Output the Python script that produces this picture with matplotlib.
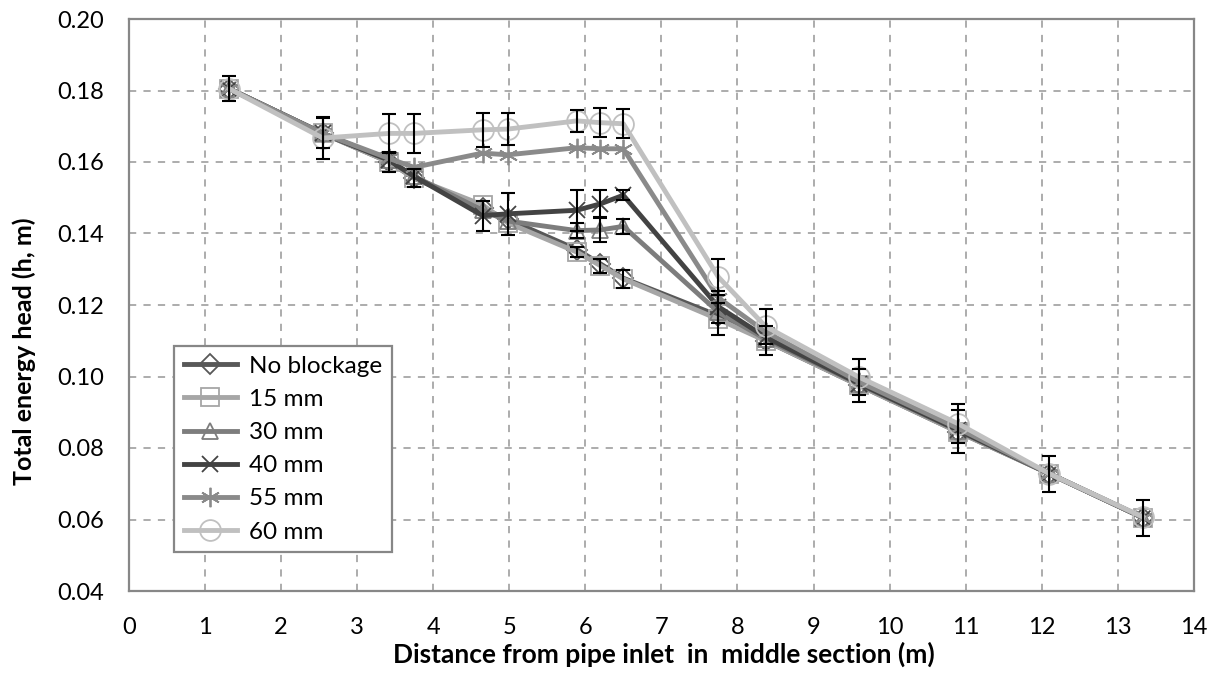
import matplotlib
matplotlib.use("Agg")
import matplotlib.pyplot as plt
from matplotlib.ticker import FormatStrFormatter

plt.rcParams['font.family'] = ['Lato', 'DejaVu Sans']

nan = float('nan')

# ---- data ----
distance = [1.32, 2.55, 3.42, 3.75, 4.65, 4.98, 5.89, 6.20, 6.50, 7.75, 8.37, 9.60, 10.90, 12.10, 13.33]

series_names = ["No blockage", "15 mm", "30 mm", "40 mm", "55 mm", "60 mm"]

head_no_blockage = [0.1805, 0.1680, 0.1600, 0.1555, 0.1470, 0.1440, 0.1355, 0.1315, 0.1275, 0.1170, 0.1100, 0.0975, 0.0845, 0.0728, 0.0605]
head_15 = [0.1805, 0.1680, 0.1600, 0.1555, 0.1480, 0.1430, 0.1348, 0.1310, 0.1273, 0.1160, 0.1100, 0.0975, 0.0845, 0.0728, 0.0605]
head_30 = [0.1805, 0.1680, 0.1605, 0.1560, 0.1465, 0.1435, 0.1408, 0.1410, 0.1420, 0.1180, 0.1105, 0.0978, 0.0848, 0.0728, 0.0605]
head_40 = [0.1805, 0.1680, 0.1605, 0.1560, 0.1450, 0.1455, 0.1465, 0.1483, 0.1507, 0.1195, 0.1110, 0.0980, 0.0850, 0.0728, 0.0605]
head_55 = [0.1805, 0.1680, 0.1610, 0.1585, 0.1625, 0.1620, 0.1640, 0.1637, 0.1637, 0.1220, 0.1125, 0.0985, 0.0855, 0.0728, 0.0605]
head_60 = [0.1805, 0.1667, 0.1680, 0.1680, 0.1690, 0.1692, 0.1715, 0.1710, 0.1707, 0.1278, 0.1140, 0.0998, 0.0868, 0.0728, 0.0607]

# error bar half-widths (nan = bar hidden behind other series)
err_no_blockage = [0.0035, nan, 0.0028, 0.0025, nan, nan, nan, nan, nan, nan, nan, 0.0045, 0.0060, 0.0050, 0.0050]
err_15 = [nan, 0.0042, nan, nan, nan, nan, 0.0015, 0.0020, 0.0025, 0.0045, 0.0040, nan, nan, nan, nan]
err_30 = [nan, nan, nan, nan, nan, nan, 0.0020, 0.0035, 0.0020, nan, nan, nan, nan, nan, nan]
err_40 = [nan, nan, nan, nan, 0.0042, 0.0058, 0.0058, 0.0040, 0.0014, 0.0045, nan, nan, nan, nan, nan]
err_55 = [nan, nan, nan, nan, nan, nan, nan, nan, nan, nan, nan, nan, nan, nan, nan]
err_60 = [nan, 0.0060, 0.0055, 0.0055, 0.0048, 0.0044, 0.0030, 0.0040, 0.0040, 0.0050, 0.0050, 0.0050, 0.0055, nan, nan]

x_ticks = list(range(0, 15))
y_ticks = [0.04, 0.06, 0.08, 0.10, 0.12, 0.14, 0.16, 0.18, 0.20]

heads = [head_no_blockage, head_15, head_30, head_40, head_55, head_60]
errs = [err_no_blockage, err_15, err_30, err_40, err_55, err_60]

# ---- styles ----
colors = ["#585858", "#a6a6a6", "#7d7d7d", "#434343", "#8a8a8a", "#c0c0c0"]
markers = ["D", "s", "^", "x", (6, 2, 0), "o"]
msizes = [10, 13, 12, 12, 14, 15]

fig = plt.figure(figsize=(12.16, 6.75), dpi=100)
ax = fig.add_axes([128.7 / 1216, 1 - 591 / 675, (1194 - 128.7) / 1216, (591 - 19) / 675])

for name, h, c, m, ms in zip(series_names, heads, colors, markers, msizes):
    ax.plot(distance, h, color=c, lw=3.5, marker=m, markersize=ms,
            markerfacecolor='none', markeredgecolor=c, markeredgewidth=1.3,
            label=name, zorder=3, solid_joinstyle='round')

for h, e in zip(heads, errs):
    ax.errorbar(distance, h, yerr=e, fmt='none', ecolor='black',
                elinewidth=1.5, capsize=5, capthick=1.5, zorder=5)

ax.set_xlim(0, 14)
ax.set_ylim(0.04, 0.20)
ax.set_xticks(x_ticks)
ax.set_yticks(y_ticks)
ax.yaxis.set_major_formatter(FormatStrFormatter('%.2f'))
ax.tick_params(axis='both', length=0, labelsize=17, colors='black')
ax.tick_params(axis='x', pad=19)
ax.tick_params(axis='y', pad=18)

ax.grid(True, color='#a6a6a6', linestyle=(0, (4, 4)), linewidth=1.3)
ax.set_axisbelow(True)
for s in ax.spines.values():
    s.set_color('#878787')
    s.set_linewidth(1.6)

ax.set_xlabel("Distance from pipe inlet  in  middle section (m)", fontsize=19,
              fontweight='bold', va='center')
ax.xaxis.set_label_coords(0.502, -0.11)
ax.set_ylabel("Total energy head (h, m)", fontsize=18, fontweight='bold', va='center')
ax.yaxis.set_label_coords(-0.0977, 0.42)

leg = ax.legend(loc='upper left', bbox_to_anchor=(0.0425, 0.4283), borderaxespad=0,
                fontsize=17.5, frameon=True, fancybox=False, framealpha=1,
                edgecolor='#878787', handlelength=2.2, handletextpad=0.5,
                labelspacing=0.5, borderpad=0.4)
leg.get_frame().set_linewidth(1.6)

fig.savefig("out.png", dpi=100)
